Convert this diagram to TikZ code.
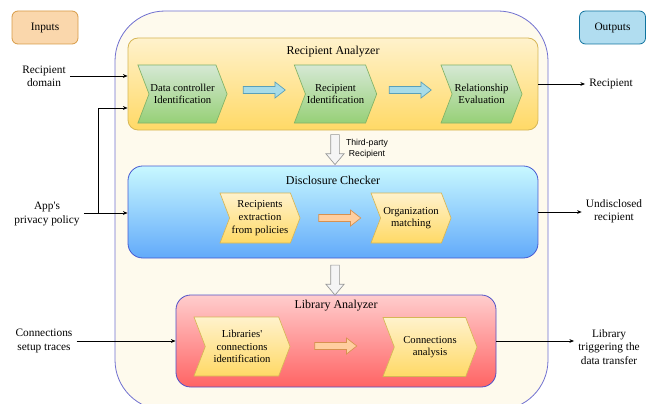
\documentclass[tikz,border=0pt]{standalone}
\usepackage{fontspec}
\setmainfont{Liberation Serif}
\newfontfamily\labelsans{Liberation Sans}
\usetikzlibrary{shapes.symbols,shapes.arrows,arrows.meta,calc}

\begin{document}
\begin{tikzpicture}[x=0.75pt,y=0.75pt,yscale=-1,xscale=1,
  font=\fontsize{8}{9.5}\selectfont,
  panel/.style={draw, line width=0.6pt, rounded corners=7.5pt, minimum width=307.5pt, minimum height=69pt, inner sep=0pt},
  paneltitle/.style={font=\fontsize{9}{11}\selectfont, inner sep=0.75pt},
  stepbox/.style={shape=signal, signal from=west, signal to=east, signal pointer angle=138, draw, line width=0.5pt, align=center, inner sep=1pt, minimum width=60.75pt, minimum height=43.5pt},
  greenstep/.style={stepbox, draw={rgb,255:red,130;green,179;blue,102}, top color={rgb,255:red,213;green,232;blue,212}, bottom color={rgb,255:red,151;green,208;blue,119}},
  yellowstep/.style={stepbox, draw={rgb,255:red,214;green,182;blue,86}, top color={rgb,255:red,255;green,242;blue,204}, bottom color={rgb,255:red,255;green,217;blue,102}},
  flowarrow/.style={shape=single arrow, draw, line width=0.5pt, inner sep=2.4pt, single arrow head extend=3.4pt, single arrow tip angle=76, minimum height=31.5pt},
  cyanarrow/.style={flowarrow, draw={rgb,255:red,90;green,160;blue,185}, fill={rgb,255:red,168;green,220;blue,232}},
  orangearrow/.style={flowarrow, draw={rgb,255:red,215;green,145;blue,80}, fill={rgb,255:red,255;green,206;blue,159}},
  grayarrow/.style={shape=single arrow, shape border rotate=270, draw={rgb,255:red,150;green,150;blue,150}, line width=0.5pt, fill={rgb,255:red,245;green,245;blue,245}, inner sep=3pt, single arrow head extend=3.6pt, single arrow tip angle=80, minimum height=22.5pt},
  iolabel/.style={align=center, font=\fontsize{8.5}{10}\selectfont, inner sep=3pt},
  iobox/.style={draw, line width=0.6pt, rounded corners=4.5pt, minimum width=49.5pt, minimum height=24.75pt, font=\fontsize{8.5}{10}\selectfont},
  conn/.style={line width=0.5pt, -{Stealth[length=3.5pt,width=2.8pt]}}
]
\useasboundingbox (0,0) rectangle (652,403);

%Shape: Rounded Rectangle (framework)
\draw [color={rgb, 255:red, 112; green, 112; blue, 208 }, fill={rgb, 255:red, 254; green, 250; blue, 237 }, line width=0.6pt, rounded corners=37.5pt] (115,11) rectangle (548,410);

% Inputs / Outputs
\node [iobox, draw={rgb,255:red,215;green,155;blue,70}, fill={rgb,255:red,250;green,215;blue,172}] (inputs) at (45,27.5) {Inputs};
\node [iobox, draw={rgb,255:red,16;green,115;blue,158}, fill={rgb,255:red,177;green,221;blue,240}] (outputs) at (612.5,27.5) {Outputs};

%Shape: Recipient Analyzer
\node [panel, draw={rgb,255:red,214;green,182;blue,86}, top color={rgb,255:red,255;green,242;blue,204}, bottom color={rgb,255:red,255;green,217;blue,102}] (ra) at (333,84) {};
\node [paneltitle] (ratitle) at (333,52) {Recipient Analyzer};
\node [greenstep] (dcid) at (182.5,94) {Data controller\\Identification};
\node [greenstep] (recid) at (335.5,94) {Recipient\\Identification};
\node [greenstep] (releval) at (481.5,94) {Relationship\\Evaluation};
\node [cyanarrow] (ra1) at (262,90) {};
\node [cyanarrow] (ra2) at (408,90) {};

%Shape: Disclosure Checker
\node [panel, rounded corners=11pt, draw={rgb,255:red,70;green,90;blue,210}, top color={rgb,255:red,200;green,248;blue,255}, bottom color={rgb,255:red,98;green,170;blue,250}] (dc) at (333,212) {};
\node [paneltitle] (dctitle) at (333,180) {Disclosure Checker};
\node [yellowstep, minimum width=60pt, minimum height=37.5pt] (recext) at (260,218) {Recipients\\extraction\\from policies};
\node [yellowstep, minimum width=60pt, minimum height=37.5pt] (orgmatch) at (411,218) {Organization\\matching};
\node [orangearrow] (dc1) at (337.5,218) {};

%Shape: Library Analyzer
\node [panel, rounded corners=11pt, minimum width=240pt, draw={rgb,255:red,80;green,80;blue,200}, top color={rgb,255:red,255;green,205;blue,205}, bottom color={rgb,255:red,255;green,100;blue,100}] (la) at (336,341) {};
\node [paneltitle] (latitle) at (336,306) {Library Analyzer};
\node [yellowstep, minimum width=72pt, minimum height=44.25pt] (libconn) at (242,346.5) {Libraries\textquotesingle\\connections\\identification};
\node [yellowstep, minimum width=70.5pt, minimum height=44.25pt] (connanal) at (430,347) {Connections\\analysis};
\node [orangearrow] (la1) at (333.5,346) {};

% Between modules
\node [grayarrow] (tp) at (335,147) {};
\node [font=\labelsans\fontsize{6.5}{8}\selectfont, align=center, inner sep=0.75pt] (tplabel) at (367,148.5) {Third-party\\Recipient};
\node [grayarrow] (dl) at (335,277.5) {};

% Text Node (inputs)
\node [iolabel] (indomain) at (44,76) {Recipient\\domain};
\node [iolabel] (inpolicy) at (47,214) {App\textquotesingle s\\privacy policy};
\node [iolabel] (intraces) at (44,341) {Connections\\setup traces};
\coordinate (split) at (98,213);

% Text Node (outputs)
\node [iolabel] (outrec) at (611,84) {Recipient};
\node [iolabel] (outundis) at (614,211) {Undisclosed\\recipient};
\node [iolabel] (outlib) at (609,347) {Library\\triggering the\\data transfer};

% connectors
\draw [conn] (indomain.east |- 0,76) -- (ra.west |- 0,76);
\draw [conn] (inpolicy.east |- split) -- (dc.west |- split);
\draw [conn] (split) |- ($(ra.west)+(0,24)$);
\draw [conn] (intraces.east) -- (intraces -| la.west);
\draw [conn] (ra.east) -- (outrec.west);
\draw [conn] (dc.east) -- (dc.east -| outundis.west);
\draw [conn] (la.east) -- (la.east -| outlib.west);

\end{tikzpicture}
\end{document}
